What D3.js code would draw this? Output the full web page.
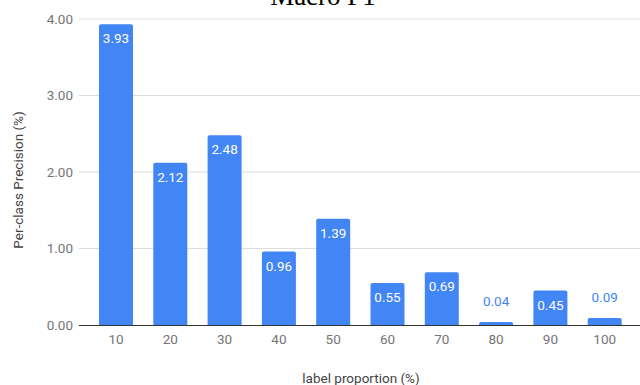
<!DOCTYPE html>
<html>
<head>
<meta charset="utf-8">
<script src="https://cdn.jsdelivr.net/npm/d3@7"></script>
<style>
  html, body { margin: 0; padding: 0; background: #fff; }
  svg { display: block; }
</style>
</head>
<body>
<svg id="chart" width="640" height="385"></svg>
<script>
// Per-class precision by label proportion
const categories = ["10", "20", "30", "40", "50", "60", "70", "80", "90", "100"];
const precision = [3.93, 2.12, 2.48, 0.96, 1.39, 0.55, 0.69, 0.04, 0.45, 0.09];
const yTicks = [0, 1, 2, 3, 4];
const chartTitle = "Macro F1";
const xTitle = "label proportion (%)";
const yTitle = "Per-class Precision (%)";

const svg = d3.select("#chart");
const plotLeft = 79, plotRight = 640;
const yTop = 19, yBottom = 325;

const x = d3.scaleBand()
  .domain(categories)
  .range([88.85, 631.85])
  .paddingInner(0.374)
  .paddingOuter(0.187);

const y = d3.scaleLinear().domain([0, 4]).range([yBottom, yTop]);

const barColor = "#4285f4";
const font = "Roboto, 'Noto Sans', sans-serif";
const fs = 13.5;

// gridlines
svg.append("g")
  .selectAll("line")
  .data(yTicks.filter(d => d > 0))
  .join("line")
  .attr("x1", plotLeft).attr("x2", plotRight)
  .attr("y1", d => y(d)).attr("y2", d => y(d))
  .attr("stroke", "#dcdcdc").attr("stroke-width", 1);

// y axis tick labels
const yAxis = d3.axisLeft(y).tickValues(yTicks).tickFormat(d3.format(".2f")).tickSize(0).tickPadding(0);
svg.append("g")
  .attr("transform", `translate(73,0)`)
  .call(yAxis)
  .call(g => g.select(".domain").remove())
  .call(g => g.selectAll("text")
    .attr("fill", "#757575")
    .attr("font-family", font)
    .attr("font-size", fs));

// bars with slightly rounded top corners
const r = 2;
function barPath(d, i) {
  const x0 = x(categories[i]), w = x.bandwidth();
  const y0 = y(d), y1 = y(0);
  const rr = Math.min(r, (y1 - y0));
  return `M${x0},${y1} L${x0},${y0 + rr} Q${x0},${y0} ${x0 + rr},${y0} L${x0 + w - rr},${y0} Q${x0 + w},${y0} ${x0 + w},${y0 + rr} L${x0 + w},${y1} Z`;
}
svg.append("g")
  .selectAll("path")
  .data(precision)
  .join("path")
  .attr("d", (d, i) => barPath(d, i))
  .attr("fill", barColor);

// baseline
svg.append("line")
  .attr("x1", plotLeft).attr("x2", plotRight)
  .attr("y1", y(0) + 0.5).attr("y2", y(0) + 0.5)
  .attr("stroke", "#333").attr("stroke-width", 1);

// value labels: inside tall bars, above short ones
const inside = d => (y(0) - y(d)) > 26;
svg.append("g")
  .selectAll("text")
  .data(precision)
  .join("text")
  .attr("x", (d, i) => x(categories[i]) + x.bandwidth() / 2)
  .attr("y", d => inside(d) ? y(d) + 19 : y(d) - 16)
  .attr("text-anchor", "middle")
  .attr("font-family", font)
  .attr("font-size", fs)
  .attr("fill", d => inside(d) ? "#ffffff" : barColor)
  .text(d => d.toFixed(2));

// x axis tick labels
const xAxis = d3.axisBottom(x).tickSize(0).tickPadding(0);
svg.append("g")
  .attr("transform", `translate(0,${y(0) + 9})`)
  .call(xAxis)
  .call(g => g.select(".domain").remove())
  .call(g => g.selectAll("text")
    .attr("fill", "#757575")
    .attr("font-family", font)
    .attr("font-size", fs));

// axis titles
svg.append("text")
  .attr("x", 361).attr("y", 383)
  .attr("text-anchor", "middle")
  .attr("font-family", font)
  .attr("font-size", fs)
  .attr("fill", "#444")
  .text(xTitle);

svg.append("text")
  .attr("transform", "translate(23,180) rotate(-90)")
  .attr("text-anchor", "middle")
  .attr("font-family", font)
  .attr("font-size", fs)
  .attr("fill", "#444")
  .text(yTitle);

// chart title, partly above the top edge
svg.append("text")
  .attr("x", 323).attr("y", 5)
  .attr("text-anchor", "middle")
  .attr("font-family", "'Liberation Serif', 'Times New Roman', serif")
  .attr("font-size", 27)
  .attr("fill", "#000")
  .text(chartTitle);
</script>
</body>
</html>
